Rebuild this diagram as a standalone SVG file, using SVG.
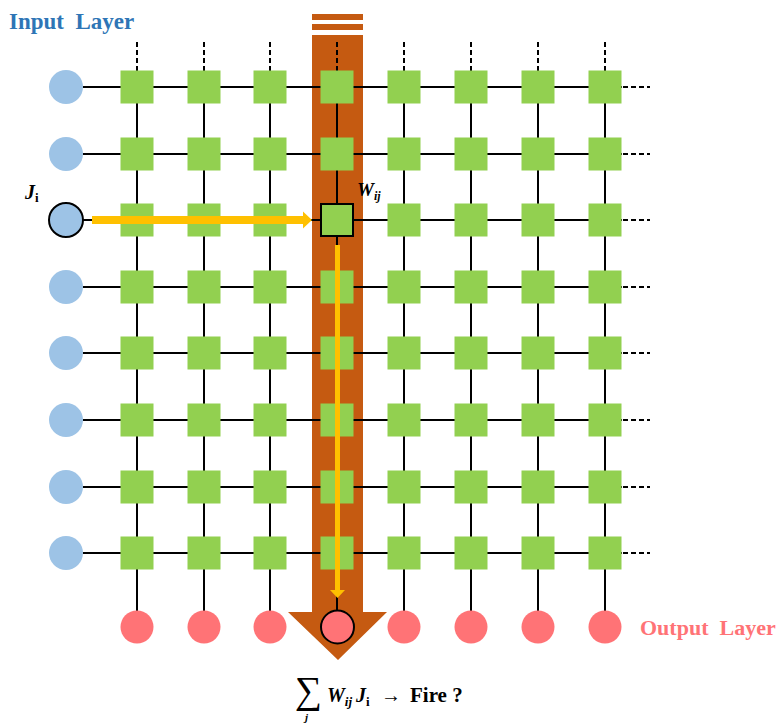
<svg xmlns="http://www.w3.org/2000/svg" width="781" height="727" viewBox="0 0 781 727">
<style>
.ln{stroke:#000;stroke-width:2;fill:none}
.dl{stroke:#000;stroke-width:2;fill:none;stroke-dasharray:5 3}
.sq{fill:#92D050}
.in{fill:#9DC3E6}
.out{fill:#FF7376}
.hl{stroke:#000;stroke-width:2}
.lbl{font-family:"Liberation Serif",serif;font-weight:bold}
.m{font-family:"Liberation Serif",serif;font-weight:bold;font-style:italic;fill:#000}
</style>
<rect width="781" height="727" fill="#fff"/>
<g id="band">
<rect x="312" y="14" width="51" height="6" fill="#C55A11"/>
<rect x="312" y="24" width="51" height="6" fill="#C55A11"/>
<polygon points="312,35 363,35 363,612 387,612 338,660 288,612 312,612" fill="#C55A11"/>
</g>
<g id="connectors">
<path class="ln" d="M83,87H622M83,154H622M83,220H622M83,287H622M83,353H622M83,420H622M83,487H622M83,553H622"/>
<path class="dl" d="M623,87H650M623,154H650M623,220H650M623,287H650M623,353H650M623,420H650M623,487H650M623,553H650"/>
<path class="ln" d="M137,70V611M204,70V611M270,70V611M337,70V610M404,70V611M471,70V611M538,70V611M605,70V611"/>
<path class="dl" d="M137,42V70M204,42V70M270,42V70M337,42V70M404,42V70M471,42V70M538,42V70M605,42V70"/>
</g>
<g id="inputs">
<g id="in1"><circle class="in" cx="66" cy="87" r="17"/></g>
<g id="in2"><circle class="in" cx="66" cy="154" r="17"/></g>
<g id="in3"><circle class="in hl" cx="66" cy="220" r="17"/></g>
<g id="in4"><circle class="in" cx="66" cy="287" r="17"/></g>
<g id="in5"><circle class="in" cx="66" cy="353" r="17"/></g>
<g id="in6"><circle class="in" cx="66" cy="420" r="17"/></g>
<g id="in7"><circle class="in" cx="66" cy="487" r="17"/></g>
<g id="in8"><circle class="in" cx="66" cy="553" r="17"/></g>
</g>
<g id="weights">
<g id="w11"><rect class="sq" x="120.5" y="70.5" width="33" height="33"/></g>
<g id="w12"><rect class="sq" x="187.5" y="70.5" width="33" height="33"/></g>
<g id="w13"><rect class="sq" x="253.5" y="70.5" width="33" height="33"/></g>
<g id="w14"><rect class="sq" x="320.5" y="70.5" width="33" height="33"/></g>
<g id="w15"><rect class="sq" x="387.5" y="70.5" width="33" height="33"/></g>
<g id="w16"><rect class="sq" x="454.5" y="70.5" width="33" height="33"/></g>
<g id="w17"><rect class="sq" x="521.5" y="70.5" width="33" height="33"/></g>
<g id="w18"><rect class="sq" x="588.5" y="70.5" width="33" height="33"/></g>
<g id="w21"><rect class="sq" x="120.5" y="137.5" width="33" height="33"/></g>
<g id="w22"><rect class="sq" x="187.5" y="137.5" width="33" height="33"/></g>
<g id="w23"><rect class="sq" x="253.5" y="137.5" width="33" height="33"/></g>
<g id="w24"><rect class="sq" x="320.5" y="137.5" width="33" height="33"/></g>
<g id="w25"><rect class="sq" x="387.5" y="137.5" width="33" height="33"/></g>
<g id="w26"><rect class="sq" x="454.5" y="137.5" width="33" height="33"/></g>
<g id="w27"><rect class="sq" x="521.5" y="137.5" width="33" height="33"/></g>
<g id="w28"><rect class="sq" x="588.5" y="137.5" width="33" height="33"/></g>
<g id="w31"><rect class="sq" x="120.5" y="203.5" width="33" height="33"/></g>
<g id="w32"><rect class="sq" x="187.5" y="203.5" width="33" height="33"/></g>
<g id="w33"><rect class="sq" x="253.5" y="203.5" width="33" height="33"/></g>
<g id="w34"><rect class="sq hl" x="321" y="204" width="32" height="32"/></g>
<g id="w35"><rect class="sq" x="387.5" y="203.5" width="33" height="33"/></g>
<g id="w36"><rect class="sq" x="454.5" y="203.5" width="33" height="33"/></g>
<g id="w37"><rect class="sq" x="521.5" y="203.5" width="33" height="33"/></g>
<g id="w38"><rect class="sq" x="588.5" y="203.5" width="33" height="33"/></g>
<g id="w41"><rect class="sq" x="120.5" y="270.5" width="33" height="33"/></g>
<g id="w42"><rect class="sq" x="187.5" y="270.5" width="33" height="33"/></g>
<g id="w43"><rect class="sq" x="253.5" y="270.5" width="33" height="33"/></g>
<g id="w44"><rect class="sq" x="320.5" y="270.5" width="33" height="33"/></g>
<g id="w45"><rect class="sq" x="387.5" y="270.5" width="33" height="33"/></g>
<g id="w46"><rect class="sq" x="454.5" y="270.5" width="33" height="33"/></g>
<g id="w47"><rect class="sq" x="521.5" y="270.5" width="33" height="33"/></g>
<g id="w48"><rect class="sq" x="588.5" y="270.5" width="33" height="33"/></g>
<g id="w51"><rect class="sq" x="120.5" y="336.5" width="33" height="33"/></g>
<g id="w52"><rect class="sq" x="187.5" y="336.5" width="33" height="33"/></g>
<g id="w53"><rect class="sq" x="253.5" y="336.5" width="33" height="33"/></g>
<g id="w54"><rect class="sq" x="320.5" y="336.5" width="33" height="33"/></g>
<g id="w55"><rect class="sq" x="387.5" y="336.5" width="33" height="33"/></g>
<g id="w56"><rect class="sq" x="454.5" y="336.5" width="33" height="33"/></g>
<g id="w57"><rect class="sq" x="521.5" y="336.5" width="33" height="33"/></g>
<g id="w58"><rect class="sq" x="588.5" y="336.5" width="33" height="33"/></g>
<g id="w61"><rect class="sq" x="120.5" y="403.5" width="33" height="33"/></g>
<g id="w62"><rect class="sq" x="187.5" y="403.5" width="33" height="33"/></g>
<g id="w63"><rect class="sq" x="253.5" y="403.5" width="33" height="33"/></g>
<g id="w64"><rect class="sq" x="320.5" y="403.5" width="33" height="33"/></g>
<g id="w65"><rect class="sq" x="387.5" y="403.5" width="33" height="33"/></g>
<g id="w66"><rect class="sq" x="454.5" y="403.5" width="33" height="33"/></g>
<g id="w67"><rect class="sq" x="521.5" y="403.5" width="33" height="33"/></g>
<g id="w68"><rect class="sq" x="588.5" y="403.5" width="33" height="33"/></g>
<g id="w71"><rect class="sq" x="120.5" y="470.5" width="33" height="33"/></g>
<g id="w72"><rect class="sq" x="187.5" y="470.5" width="33" height="33"/></g>
<g id="w73"><rect class="sq" x="253.5" y="470.5" width="33" height="33"/></g>
<g id="w74"><rect class="sq" x="320.5" y="470.5" width="33" height="33"/></g>
<g id="w75"><rect class="sq" x="387.5" y="470.5" width="33" height="33"/></g>
<g id="w76"><rect class="sq" x="454.5" y="470.5" width="33" height="33"/></g>
<g id="w77"><rect class="sq" x="521.5" y="470.5" width="33" height="33"/></g>
<g id="w78"><rect class="sq" x="588.5" y="470.5" width="33" height="33"/></g>
<g id="w81"><rect class="sq" x="120.5" y="536.5" width="33" height="33"/></g>
<g id="w82"><rect class="sq" x="187.5" y="536.5" width="33" height="33"/></g>
<g id="w83"><rect class="sq" x="253.5" y="536.5" width="33" height="33"/></g>
<g id="w84"><rect class="sq" x="320.5" y="536.5" width="33" height="33"/></g>
<g id="w85"><rect class="sq" x="387.5" y="536.5" width="33" height="33"/></g>
<g id="w86"><rect class="sq" x="454.5" y="536.5" width="33" height="33"/></g>
<g id="w87"><rect class="sq" x="521.5" y="536.5" width="33" height="33"/></g>
<g id="w88"><rect class="sq" x="588.5" y="536.5" width="33" height="33"/></g>
</g>
<g id="outputs">
<g id="out1"><circle class="out" cx="137" cy="627" r="16.5"/></g>
<g id="out2"><circle class="out" cx="204" cy="627" r="16.5"/></g>
<g id="out3"><circle class="out" cx="270" cy="627" r="16.5"/></g>
<g id="out4"><circle class="out hl" cx="337.5" cy="627" r="16.5"/></g>
<g id="out5"><circle class="out" cx="404" cy="627" r="16.5"/></g>
<g id="out6"><circle class="out" cx="471" cy="627" r="16.5"/></g>
<g id="out7"><circle class="out" cx="538" cy="627" r="16.5"/></g>
<g id="out8"><circle class="out" cx="605" cy="627" r="16.5"/></g>
</g>
<g id="signal-arrows">
<line x1="92" y1="220" x2="304" y2="220" stroke="#FFC000" stroke-width="8"/>
<polygon points="303,211.5 312,220 303,228.5" fill="#FFC000"/>
<line x1="337.5" y1="245" x2="337.5" y2="591" stroke="#FFC000" stroke-width="5"/>
<polygon points="330,590 345,590 337.5,598" fill="#FFC000"/>
</g>
<g id="labels">
<text class="lbl" x="9" y="29" font-size="23" fill="#2E75B6" xml:space="preserve">Input  Layer</text>
<text class="lbl" x="640" y="635" font-size="22" fill="#FF7376" xml:space="preserve">Output  Layer</text>
<text class="m" x="25" y="199" font-size="20">J<tspan font-size="13" dy="3" font-style="normal">i</tspan></text>
<text class="m" x="357" y="196" font-size="19">W<tspan font-size="12" dy="4">ij</tspan></text>
<text x="295" y="703" font-family="Liberation Serif,serif" font-size="38" fill="#000">∑</text>
<text x="305" y="721" font-family="Liberation Serif,serif" font-style="italic" font-weight="bold" font-size="11" fill="#000">j</text>
<text class="m" x="327" y="702" font-size="20">W<tspan font-size="13" dy="4">ij</tspan><tspan dy="-4" dx="4">J</tspan><tspan font-size="13" dy="4" font-style="normal">i</tspan></text>
<text x="381" y="702" font-family="Liberation Serif,serif" font-size="20" fill="#000">→</text>
<text class="lbl" x="410" y="702" font-size="21" fill="#000">Fire ?</text>
</g>
</svg>
